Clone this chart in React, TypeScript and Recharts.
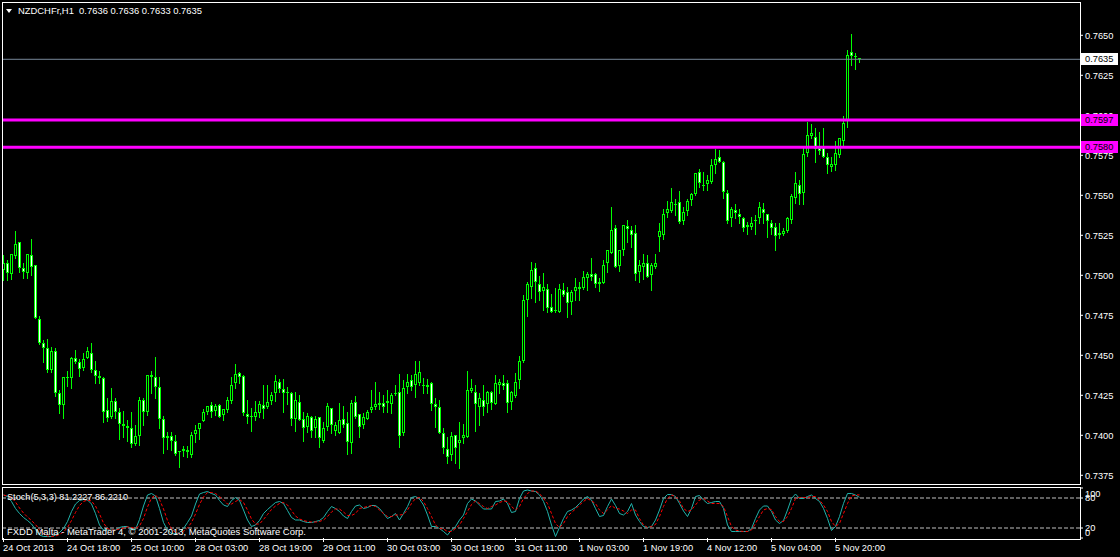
import {
  ComposedChart,
  Bar,
  LineChart,
  Line,
  XAxis,
  YAxis,
  ReferenceLine
} from "recharts";

// NZDCHF H1 candles (bar 0 = 24 Oct 2013 02:00)
const opens = [
  0.75033, 0.75076, 0.75008, 0.7512, 0.75208, 0.75045, 0.75014, 0.75126, 0.75064, 0.74726,
  0.74576, 0.74545, 0.74408, 0.74526, 0.74264, 0.74189, 0.74364, 0.74358, 0.74483, 0.74458,
  0.7442, 0.74483, 0.74514, 0.74408, 0.7437, 0.74358, 0.74158, 0.74114, 0.74214, 0.74145,
  0.7407, 0.74058, 0.74045, 0.73945, 0.73995, 0.7422, 0.74145, 0.74376, 0.74364, 0.74301,
  0.74101, 0.73983, 0.73995, 0.73964, 0.73895, 0.73901, 0.73908, 0.73876, 0.74008, 0.74039,
  0.74089, 0.74145, 0.74189, 0.74151, 0.74189, 0.74126, 0.74158, 0.74214, 0.74326, 0.74389,
  0.7437, 0.74133, 0.7412, 0.74114, 0.74139, 0.74189, 0.74176, 0.74214, 0.74264, 0.74333,
  0.74289, 0.7427, 0.74264, 0.74101, 0.74208, 0.74101, 0.74051, 0.74114, 0.74045, 0.74114,
  0.73964, 0.74051, 0.7417, 0.74026, 0.74014, 0.74101, 0.74076, 0.73951, 0.74208, 0.74133,
  0.74064, 0.74101, 0.74158, 0.74176, 0.74189, 0.74201, 0.74201, 0.74195, 0.74264, 0.7427,
  0.74014, 0.74301, 0.74345, 0.74314, 0.74326, 0.74314, 0.74314, 0.74326, 0.74195, 0.74176,
  0.74014, 0.73914, 0.73876, 0.74001, 0.73951, 0.73983, 0.73989, 0.74276, 0.7427, 0.74176,
  0.7422, 0.74195, 0.7427, 0.74195, 0.74314, 0.74326, 0.74326, 0.74208, 0.74245, 0.74345,
  0.74464, 0.74845, 0.74926, 0.75045, 0.74945, 0.74901, 0.74914, 0.74801, 0.74783, 0.7477,
  0.74908, 0.74895, 0.74833, 0.74901, 0.74926, 0.7492, 0.74983, 0.75008, 0.75008, 0.74945,
  0.74951, 0.75076, 0.75139, 0.75295, 0.75058, 0.75158, 0.75308, 0.75283, 0.75264, 0.7502,
  0.75051, 0.75076, 0.75001, 0.75051, 0.75239, 0.75251, 0.75389, 0.75401, 0.75445, 0.75458,
  0.75339, 0.75401, 0.7547, 0.75508, 0.75645, 0.75564, 0.7557, 0.75583, 0.75689, 0.75739,
  0.75708, 0.75514, 0.75358, 0.75408, 0.75383, 0.75358, 0.75314, 0.75301, 0.75345, 0.75358,
  0.75414, 0.75383, 0.75326, 0.75301, 0.75264, 0.75258, 0.75276, 0.75345, 0.75483, 0.75564,
  0.75514, 0.75764, 0.7587, 0.75864, 0.75795, 0.75795, 0.75739, 0.75676, 0.75689, 0.75751,
  0.75839, 0.75964, 0.76395, 0.7637, 0.7636
];

const highs = [
  0.75126, 0.75095, 0.75133, 0.75276, 0.75208, 0.75076, 0.75133, 0.75226, 0.75064, 0.74745,
  0.74595, 0.74601, 0.74551, 0.74545, 0.74283, 0.74364, 0.74401, 0.74489, 0.74533, 0.74476,
  0.74514, 0.74551, 0.74576, 0.74464, 0.74401, 0.74364, 0.74233, 0.74295, 0.74233, 0.7417,
  0.74151, 0.74095, 0.74145, 0.74064, 0.74239, 0.74233, 0.74376, 0.74401, 0.74489, 0.74364,
  0.7412, 0.7402, 0.7402, 0.74001, 0.73901, 0.73933, 0.73933, 0.7402, 0.74064, 0.74076,
  0.74164, 0.74183, 0.74208, 0.74195, 0.74195, 0.74164, 0.74239, 0.74364, 0.74445, 0.74395,
  0.74376, 0.7422, 0.7417, 0.74214, 0.74214, 0.74314, 0.74314, 0.7427, 0.74376, 0.74351,
  0.74351, 0.74301, 0.7427, 0.7427, 0.74251, 0.74145, 0.74139, 0.7412, 0.7412, 0.74114,
  0.74083, 0.74201, 0.7417, 0.74083, 0.74201, 0.74183, 0.74145, 0.7422, 0.74245, 0.74133,
  0.74139, 0.74158, 0.74283, 0.74333, 0.7427, 0.74251, 0.74283, 0.74264, 0.74314, 0.74383,
  0.74345, 0.74383, 0.74376, 0.74464, 0.74464, 0.74358, 0.74351, 0.74333, 0.74233, 0.7422,
  0.74045, 0.73989, 0.7402, 0.74001, 0.74083, 0.7407, 0.74401, 0.74351, 0.74314, 0.74264,
  0.74314, 0.74276, 0.74276, 0.74376, 0.74351, 0.74376, 0.74345, 0.74276, 0.74389, 0.74495,
  0.74876, 0.74958, 0.75083, 0.75076, 0.74995, 0.75014, 0.74945, 0.74883, 0.7492, 0.74945,
  0.74951, 0.74926, 0.74908, 0.74983, 0.74958, 0.75026, 0.7502, 0.75108, 0.75014, 0.74983,
  0.75095, 0.75158, 0.75426, 0.75314, 0.75158, 0.75314, 0.75345, 0.75308, 0.75314, 0.75095,
  0.75133, 0.75126, 0.75076, 0.75133, 0.75326, 0.75414, 0.75464, 0.75545, 0.75476, 0.75526,
  0.75426, 0.75476, 0.75514, 0.75639, 0.75664, 0.75645, 0.75626, 0.75726, 0.75789, 0.75783,
  0.75714, 0.75533, 0.75426, 0.75445, 0.75414, 0.75364, 0.75333, 0.75364, 0.75376, 0.75458,
  0.75451, 0.75383, 0.75345, 0.75326, 0.75326, 0.75295, 0.75364, 0.75508, 0.75645, 0.75595,
  0.75795, 0.75958, 0.75945, 0.7592, 0.75895, 0.7592, 0.75764, 0.75739, 0.75839, 0.75858,
  0.75995, 0.76408, 0.76508, 0.76389, 0.7636
];

const lows = [
  0.7497, 0.7497, 0.74976, 0.75108, 0.7502, 0.74983, 0.74983, 0.75001, 0.74733, 0.7457,
  0.74458, 0.74395, 0.74395, 0.74245, 0.74139, 0.74108, 0.74308, 0.74295, 0.74451, 0.7437,
  0.74408, 0.74483, 0.74395, 0.74326, 0.74326, 0.74083, 0.74089, 0.74108, 0.74108, 0.73976,
  0.73989, 0.73964, 0.73926, 0.73939, 0.73939, 0.74064, 0.74126, 0.74264, 0.74233, 0.74045,
  0.73889, 0.73914, 0.73908, 0.73876, 0.73801, 0.7387, 0.73864, 0.73864, 0.73958, 0.73976,
  0.74089, 0.74133, 0.74114, 0.74126, 0.74114, 0.74095, 0.74145, 0.74201, 0.74295, 0.74326,
  0.74126, 0.74076, 0.74026, 0.74095, 0.74114, 0.74108, 0.7417, 0.74195, 0.74214, 0.7427,
  0.74145, 0.74195, 0.74064, 0.74026, 0.74095, 0.73964, 0.7402, 0.73989, 0.73989, 0.73926,
  0.73958, 0.74033, 0.74014, 0.74001, 0.74014, 0.74051, 0.73883, 0.73889, 0.74108, 0.73989,
  0.74045, 0.74101, 0.74145, 0.74164, 0.74164, 0.74145, 0.74145, 0.74139, 0.74251, 0.73926,
  0.74001, 0.74264, 0.74283, 0.74239, 0.74314, 0.74264, 0.74264, 0.74158, 0.74051, 0.74014,
  0.73889, 0.73826, 0.73845, 0.73826, 0.73795, 0.73951, 0.73989, 0.7427, 0.74026, 0.74064,
  0.74126, 0.74145, 0.74164, 0.74195, 0.74264, 0.74289, 0.74145, 0.74164, 0.74239, 0.74295,
  0.74458, 0.74745, 0.74858, 0.74833, 0.74845, 0.74783, 0.7477, 0.7477, 0.7477, 0.7477,
  0.7487, 0.74739, 0.74758, 0.74845, 0.74845, 0.74914, 0.74908, 0.7497, 0.74926, 0.74901,
  0.74951, 0.7502, 0.75139, 0.75051, 0.75026, 0.75126, 0.75208, 0.75176, 0.7497, 0.74958,
  0.74976, 0.74989, 0.74908, 0.75045, 0.75151, 0.75226, 0.75364, 0.75395, 0.75376, 0.75326,
  0.7532, 0.75376, 0.75439, 0.75501, 0.75551, 0.75533, 0.75533, 0.75576, 0.75639, 0.75708,
  0.75483, 0.75326, 0.75308, 0.75358, 0.75326, 0.75276, 0.75258, 0.75289, 0.75258, 0.75326,
  0.75326, 0.75239, 0.75258, 0.75158, 0.75233, 0.75251, 0.7527, 0.75326, 0.75451, 0.75445,
  0.75445, 0.75745, 0.75858, 0.75708, 0.75758, 0.75739, 0.75639, 0.75651, 0.75658, 0.75739,
  0.75808, 0.75926, 0.76314, 0.76289, 0.7633
];

const closes = [
  0.75076, 0.75014, 0.75133, 0.75195, 0.75045, 0.7502, 0.75133, 0.75051, 0.74733, 0.74576,
  0.74545, 0.74408, 0.74526, 0.74264, 0.74189, 0.74364, 0.74358, 0.74483, 0.74458, 0.74414,
  0.74476, 0.74526, 0.74408, 0.7437, 0.74358, 0.74145, 0.74108, 0.74214, 0.74145, 0.7407,
  0.74058, 0.74045, 0.73945, 0.73995, 0.7422, 0.74145, 0.74376, 0.74364, 0.74301, 0.74101,
  0.73983, 0.73995, 0.73964, 0.73883, 0.73901, 0.73914, 0.73895, 0.74001, 0.74033, 0.74076,
  0.74145, 0.74183, 0.74145, 0.74183, 0.74114, 0.74164, 0.7422, 0.74314, 0.74383, 0.74364,
  0.74139, 0.74114, 0.74114, 0.74145, 0.74195, 0.74164, 0.74208, 0.74251, 0.74339, 0.74289,
  0.74264, 0.74264, 0.74101, 0.7422, 0.74095, 0.74045, 0.7412, 0.74026, 0.74101, 0.73983,
  0.74045, 0.74183, 0.74064, 0.74064, 0.74095, 0.74064, 0.73958, 0.74201, 0.74114, 0.74051,
  0.74114, 0.74145, 0.74176, 0.74195, 0.74201, 0.74176, 0.74214, 0.74251, 0.74264, 0.73995,
  0.74295, 0.74333, 0.74301, 0.74383, 0.74395, 0.74314, 0.74301, 0.74195, 0.74176, 0.74014,
  0.7392, 0.73864, 0.73995, 0.7392, 0.7397, 0.74001, 0.74283, 0.74295, 0.74195, 0.74233,
  0.74176, 0.7427, 0.74201, 0.74326, 0.74333, 0.74308, 0.74201, 0.7427, 0.74333, 0.74464,
  0.74845, 0.74945, 0.75033, 0.74958, 0.74895, 0.74926, 0.74795, 0.7477, 0.74783, 0.74914,
  0.74876, 0.74826, 0.74895, 0.74926, 0.74914, 0.74989, 0.75008, 0.74989, 0.74945, 0.74958,
  0.75064, 0.75158, 0.75283, 0.75051, 0.75158, 0.75314, 0.75289, 0.75251, 0.75008, 0.75064,
  0.75076, 0.74989, 0.75064, 0.75076, 0.75276, 0.75383, 0.75414, 0.75458, 0.75445, 0.75333,
  0.75395, 0.75464, 0.75508, 0.75639, 0.75576, 0.75564, 0.75595, 0.75689, 0.75726, 0.75708,
  0.7552, 0.75339, 0.75414, 0.75389, 0.75364, 0.75295, 0.75301, 0.75326, 0.75345, 0.75426,
  0.75389, 0.75339, 0.75295, 0.75245, 0.75251, 0.75276, 0.75358, 0.75495, 0.75576, 0.75508,
  0.75758, 0.75876, 0.75889, 0.75789, 0.75776, 0.75739, 0.75689, 0.75695, 0.75764, 0.75858,
  0.75951, 0.76376, 0.7637, 0.76362, 0.7635
];

// Stochastic(5,3,3) main and signal lines
const stochMain = [
  86, 83, 73, 59, 49, 41, 35, 28, 17, 6,
  3, 3, 3, 6, 11, 19, 33, 53, 68, 75,
  77, 76, 68, 49, 26, 16, 16, 16, 16, 21,
  23, 23, 17, 17, 37, 64, 86, 89, 84, 59,
  31, 16, 9, 8, 11, 19, 31, 44, 68, 88,
  91, 93, 89, 86, 75, 66, 63, 75, 81, 75,
  56, 36, 23, 26, 35, 49, 57, 64, 71, 73,
  69, 55, 41, 36, 36, 33, 31, 31, 33, 35,
  41, 53, 63, 59, 53, 44, 39, 53, 64, 66,
  59, 61, 65, 65, 59, 49, 39, 43, 49, 36,
  49, 63, 81, 83, 78, 66, 46, 23, 23, 19,
  13, 6, 16, 23, 36, 46, 69, 78, 74, 66,
  58, 58, 58, 73, 74, 78, 69, 51, 53, 79,
  94, 96, 94, 93, 86, 73, 53, 26, 3, 21,
  39, 53, 56, 61, 69, 78, 83, 76, 59, 43,
  45, 63, 78, 65, 49, 46, 53, 69, 46, 33,
  23, 21, 23, 36, 56, 79, 87, 87, 83, 69,
  54, 43, 59, 83, 85, 76, 69, 71, 73, 73,
  59, 26, 13, 13, 13, 13, 13, 19, 39, 56,
  64, 64, 53, 36, 29, 35, 56, 79, 88, 79,
  79, 83, 86, 79, 73, 59, 39, 15, 23, 43,
  69, 89, 89, 86, 81.2227
];

const stochSignal = [
  86, 84, 81, 72, 60, 50, 42, 35, 27, 17,
  9, 4, 3, 4, 7, 12, 21, 35, 51, 65,
  73, 76, 74, 64, 48, 30, 19, 16, 16, 18,
  20, 22, 21, 19, 24, 39, 62, 80, 86, 77,
  58, 35, 19, 11, 9, 13, 20, 31, 48, 67,
  82, 91, 91, 89, 83, 76, 68, 68, 73, 77,
  71, 56, 38, 28, 28, 37, 47, 57, 64, 69,
  71, 66, 55, 44, 38, 35, 33, 32, 32, 33,
  36, 43, 52, 58, 58, 52, 45, 45, 49, 59,
  61, 63, 65, 63, 56, 49, 43, 43, 46, 46,
  47, 56, 69, 79, 81, 73, 59, 43, 26, 19,
  18, 13, 13, 19, 26, 39, 53, 67, 74, 69,
  63, 59, 63, 66, 71, 74, 73, 63, 56, 63,
  79, 89, 94, 94, 89, 79, 69, 49, 29, 21,
  29, 43, 51, 58, 66, 73, 79, 74, 69, 56,
  49, 56, 65, 59, 58, 54, 49, 56, 56, 39,
  26, 21, 23, 27, 43, 63, 79, 86, 83, 74,
  59, 53, 56, 66, 76, 79, 74, 69, 69, 69,
  63, 43, 23, 16, 14, 13, 13, 16, 29, 43,
  56, 59, 57, 43, 33, 33, 43, 59, 79, 81,
  81, 81, 83, 83, 76, 66, 53, 33, 23, 29,
  49, 69, 84, 86, 86.221
];

const timeTickBars = [0, 16, 32, 48, 64, 80, 96, 112, 128, 144, 160, 176, 192, 208];
const timeLabels = [
  "24 Oct 2013", "24 Oct 18:00", "25 Oct 10:00", "28 Oct 03:00", "28 Oct 19:00",
  "29 Oct 11:00", "30 Oct 03:00", "30 Oct 19:00", "31 Oct 11:00", "1 Nov 03:00",
  "1 Nov 19:00", "4 Nov 12:00", "5 Nov 04:00", "5 Nov 20:00"
];

const priceTicks = [
  0.765, 0.7625, 0.76, 0.7575, 0.755, 0.7525, 0.75, 0.7475, 0.745, 0.7425, 0.74, 0.7375
];
const levelLines = [0.7597, 0.758];
const lastPrice = 0.7635;
const stochTicks = [0, 20, 80, 100];
const stochLevels = [80, 20];

const FONT = "'Liberation Sans', Arial, sans-serif";
const FS = 9.3;
const LIME = "#00FF00";
const MAGENTA = "#FF00FF";

// bar index domain: 4px per bar across the 1078px plot
const X_DOMAIN: [number, number] = [-0.375, 269.125];
const Y_DOMAIN: [number, number] = [0.736956, 0.767081];
const MAIN_MARGIN = { top: 2, right: 0, bottom: 2, left: 2 };

const candles = opens.map((o, i) => ({
  i,
  o,
  h: highs[i],
  l: lows[i],
  c: closes[i],
  range: [lows[i], highs[i]]
}));

const stochData = stochMain.map((k, i) => ({ i, k, d: stochSignal[i] }));

function Candle(props: any) {
  const { x, y, width, height, payload } = props;
  if (!payload) return null;
  const { o, h, l, c } = payload;
  const cx = Math.round(x + width / 2 - 0.5) + 0.5;
  const span = h - l;
  const toY = (v: number) => (span > 0 ? y + ((h - v) / span) * height : y);
  const top = Math.round(toY(Math.max(o, c)));
  const bot = Math.round(toY(Math.min(o, c)));
  const bear = c < o;
  return (
    <g>
      <line
        x1={cx}
        x2={cx}
        y1={Math.round(y)}
        y2={Math.round(y + height) + 1}
        stroke={LIME}
        strokeWidth={1}
      />
      {bot - top >= 2 ? (
        <rect
          x={cx - 1}
          y={top + 0.5}
          width={2}
          height={bot - top - 1}
          fill={bear ? "#fff" : "#000"}
          stroke={LIME}
          strokeWidth={1}
        />
      ) : (
        <rect x={cx - 1.5} y={top} width={3} height={Math.max(bot - top, 1)} fill={LIME} />
      )}
    </g>
  );
}

function PriceTick(props: any) {
  const { x, y, payload } = props;
  return (
    <text x={x} y={y} dy={3.4} fill="#fff" fontSize={FS} fontFamily={FONT} textAnchor="start">
      {Number(payload.value).toFixed(4)}
    </text>
  );
}

const stochTickShift: Record<number, number> = { 100: 6, 80: 0, 20: -0.5, 0: -5 };

function StochTick(props: any) {
  const { x, y, payload } = props;
  return (
    <text
      x={x}
      y={y + (stochTickShift[payload.value] ?? 0)}
      dy={3.4}
      fill="#fff"
      fontSize={FS}
      fontFamily={FONT}
      textAnchor="start"
    >
      {payload.value}
    </text>
  );
}

function TimeTick(props: any) {
  const { x, y, payload } = props;
  const idx = timeTickBars.indexOf(payload.value);
  return (
    <text x={x - 0.5} y={y} dy={8} fill="#fff" fontSize={FS} fontFamily={FONT} textAnchor="start">
      {timeLabels[idx]}
    </text>
  );
}

// price tag box drawn in the axis column at a horizontal line's height
const priceTag = (price: number, fill: string) => (props: any) => {
  const vb = props.viewBox || {};
  const right = (vb.x ?? 0) + (vb.width ?? 0);
  const cy = Math.round(vb.y ?? 0);
  return (
    <g>
      <rect x={right + 1} y={cy - 6} width={37} height={12} fill={fill} />
      <text x={right + 5} y={cy} dy={3.4} fill="#000" fontSize={FS} fontFamily={FONT}>
        {price.toFixed(4)}
      </text>
    </g>
  );
};

export default function App() {
  return (
    <div style={{ position: "relative", width: 1120, height: 557, background: "#000", overflow: "hidden" }}>
      <style>{"body{margin:0;background:#000}"}</style>

      <div style={{ position: "absolute", left: 0, top: 0 }}>
        <ComposedChart width={1120} height={486} data={candles} margin={MAIN_MARGIN}>
          <XAxis dataKey="i" type="number" domain={X_DOMAIN} hide />
          <YAxis
            orientation="right"
            width={40}
            domain={Y_DOMAIN}
            ticks={priceTicks}
            interval={0}
            axisLine={false}
            tickLine={{ stroke: "#fff" }}
            tickSize={3}
            tickMargin={2}
            tick={<PriceTick />}
          />
          <Bar dataKey="range" barSize={3} shape={(p: any) => <Candle {...p} />} isAnimationActive={false} />
          <ReferenceLine y={lastPrice} stroke="#778899" strokeWidth={1} />
          {levelLines.map((v) => (
            <ReferenceLine key={v} y={v} stroke={MAGENTA} strokeWidth={3} />
          ))}
        </ComposedChart>
      </div>

      {/* price tags, in a transparent copy of the main chart so they sit above the axis labels */}
      <div style={{ position: "absolute", left: 0, top: 0, pointerEvents: "none" }}>
        <ComposedChart width={1120} height={486} data={candles} margin={MAIN_MARGIN}>
          <XAxis dataKey="i" type="number" domain={X_DOMAIN} hide />
          <YAxis
            orientation="right"
            width={40}
            domain={Y_DOMAIN}
            ticks={priceTicks}
            axisLine={false}
            tickLine={false}
            tick={() => <g />}
          />
          <Bar dataKey="range" barSize={3} shape={() => <g />} isAnimationActive={false} />
          <ReferenceLine y={lastPrice} stroke="#778899" strokeOpacity={0} label={priceTag(lastPrice, "#fff")} />
          {levelLines.map((v) => (
            <ReferenceLine key={v} y={v} stroke={MAGENTA} strokeOpacity={0} label={priceTag(v, MAGENTA)} />
          ))}
        </ComposedChart>
      </div>

      <div style={{ position: "absolute", left: 0, top: 486 }}>
        <LineChart
          width={1120}
          height={71}
          data={stochData}
          margin={{ top: 2, right: 0, bottom: 0, left: 2 }}
        >
          <XAxis
            dataKey="i"
            type="number"
            domain={X_DOMAIN}
            ticks={timeTickBars}
            interval={0}
            height={19}
            axisLine={false}
            tickLine={{ stroke: "#fff" }}
            tickSize={4}
            tickMargin={1}
            tick={<TimeTick />}
          />
          <YAxis
            orientation="right"
            width={40}
            domain={[0, 100]}
            ticks={stochTicks}
            interval={0}
            axisLine={false}
            tickLine={{ stroke: "#fff" }}
            tickSize={3}
            tickMargin={2}
            tick={<StochTick />}
          />
          {stochLevels.map((v) => (
            <ReferenceLine key={v} y={v} stroke="#C0C0C0" strokeDasharray="4 2" />
          ))}
          <Line type="linear" dataKey="k" stroke="#20B2AA" strokeWidth={1} dot={false} isAnimationActive={false} />
          <Line
            type="linear"
            dataKey="d"
            stroke="#FF0000"
            strokeWidth={1}
            strokeDasharray="3 2"
            dot={false}
            isAnimationActive={false}
          />
        </LineChart>
      </div>

      {/* panel frames */}
      <div style={{ position: "absolute", left: 2, top: 2, width: 1079, height: 483, border: "1px solid #fff", boxSizing: "border-box", pointerEvents: "none" }} />
      <div style={{ position: "absolute", left: 2, top: 487, width: 1079, height: 53, border: "1px solid #fff", boxSizing: "border-box", pointerEvents: "none" }} />

      <svg
        width={1120}
        height={557}
        style={{ position: "absolute", left: 0, top: 0, pointerEvents: "none" }}
        fontFamily={FONT}
        fontSize={FS}
        fill="#fff"
      >
        <polygon points="6,9 12,9 9,13" fill="#fff" />
        <text x={18} y={14} textLength={184} lengthAdjust="spacingAndGlyphs" xmlSpace="preserve">
          {"NZDCHFr,H1  0.7636 0.7636 0.7633 0.7635"}
        </text>
        <text x={7} y={499.5} textLength={121} lengthAdjust="spacingAndGlyphs">
          {"Stoch(5,3,3) 81.2227 86.2210"}
        </text>
        <text x={7} y={534.5} textLength={299} lengthAdjust="spacingAndGlyphs">
          {"FXDD Malta - MetaTrader 4, © 2001-2013, MetaQuotes Software Corp."}
        </text>
      </svg>
    </div>
  );
}
